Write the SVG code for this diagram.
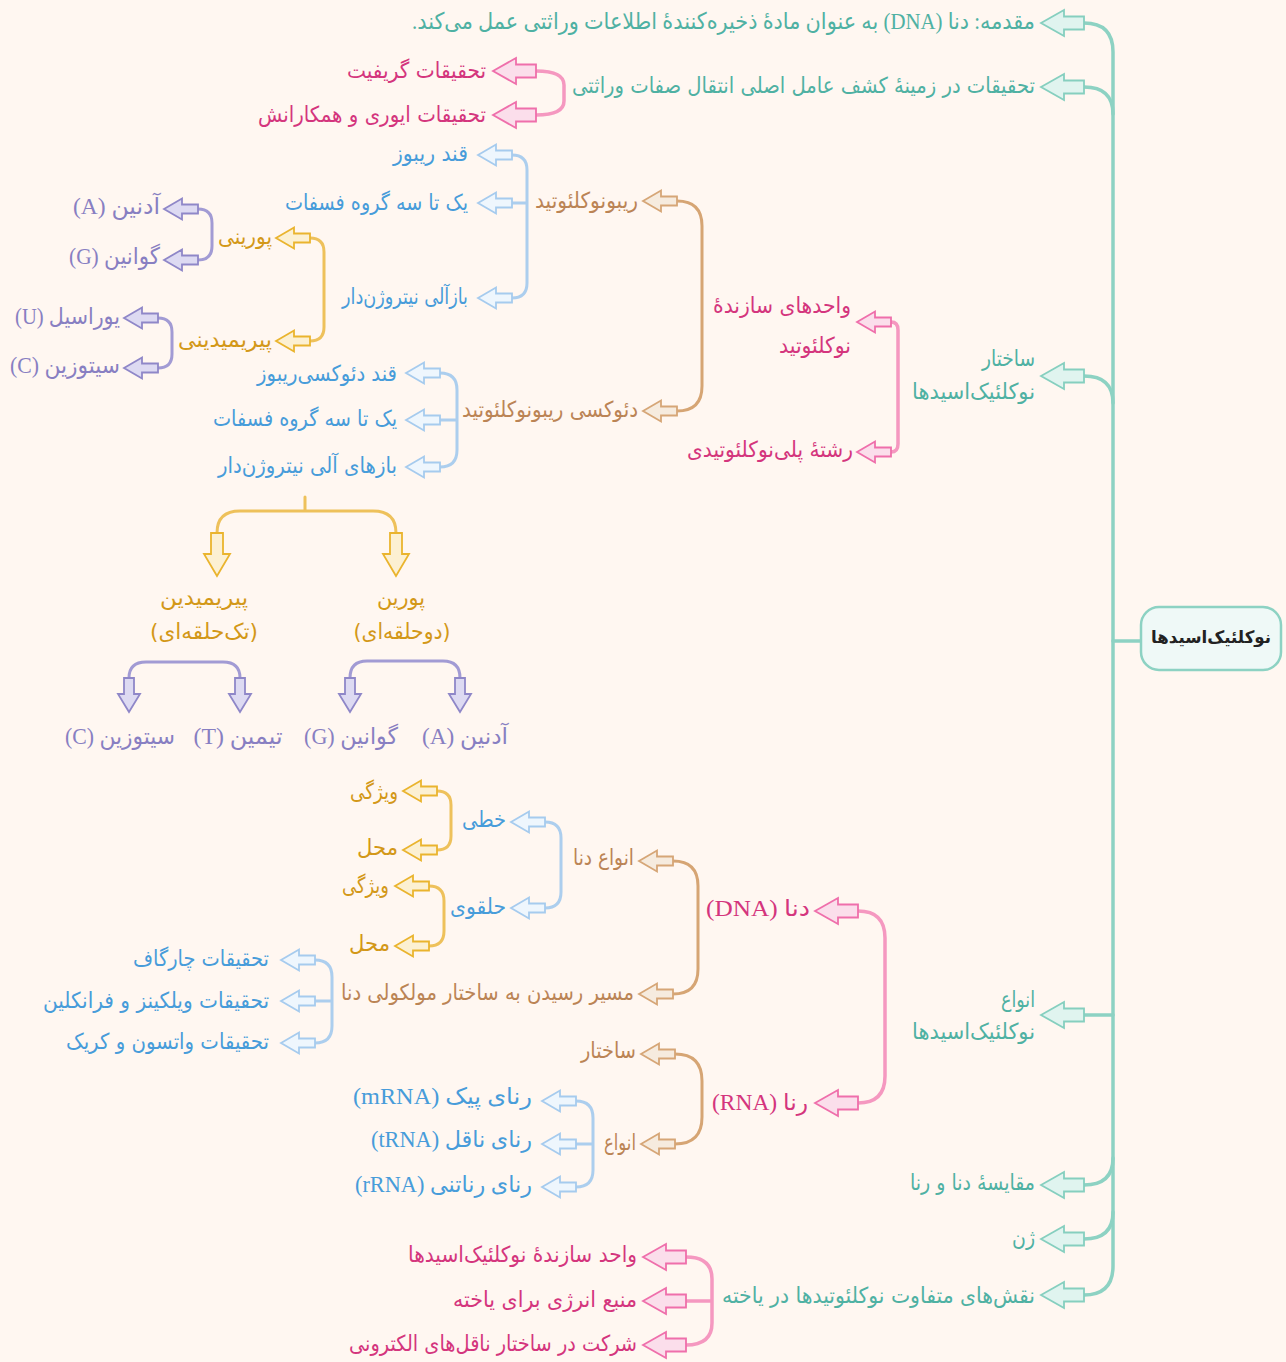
<svg xmlns="http://www.w3.org/2000/svg" xmlns:xlink="http://www.w3.org/1999/xlink" width="1286" height="1362" viewBox="0 0 1286 1362">
<defs>
<polygon id="aB" points="0,0 23,-13 23,-6.5 43,-6.5 43,6.5 23,6.5 23,13"/>
<polygon id="aS" points="0,0 18,-10.5 18,-4.5 34,-4.5 34,4.5 18,4.5 18,10.5"/>
<polygon id="dB" points="0,0 -13,-22 -6,-22 -6,-43 6,-43 6,-22 13,-22"/>
<polygon id="dS" points="0,0 -11,-18 -5,-18 -5,-34 5,-34 5,-18 11,-18"/>
<style>
.bg{fill:#fff7f1}
.ln{fill:none;stroke-linecap:round;stroke-width:3}
.lteal{stroke:#8dd2c3;stroke-width:3.5}
.lpink{stroke:#f598c0;stroke-width:3.5}
.lbrown{stroke:#d6a574}
.lblue{stroke:#acceee}
.lyellow{stroke:#eec15b}
.lpurple{stroke:#a29bd4}
use{stroke-width:1.8;stroke-linejoin:miter}
.ateal{fill:#e0f4ef;stroke:#86cfbf}
.apink{fill:#fbdeeb;stroke:#ef6fab}
.abrown{fill:#f6ebde;stroke:#d6a677}
.ablue{fill:#eef6fd;stroke:#a6cbee}
.ayellow{fill:#fcf0d2;stroke:#eab42e}
.apurple{fill:#dddaf2;stroke:#8f87c8}
text{font-family:"DejaVu Sans",sans-serif;font-size:22px;direction:rtl;dominant-baseline:central}
.lat{font-family:"Liberation Serif","DejaVu Sans",serif;font-size:23px}
.mid{text-anchor:middle}
.teal{fill:#4fb1a3}
.pink{fill:#d4357d}
.brown{fill:#bb8455}
.blue{fill:#479cda}
.yellow{fill:#d39818}
.purple{fill:#887fc2}
.root{fill:#222;font-weight:bold;font-size:17px}
</style>
</defs>
<rect class="bg" x="0" y="0" width="1286" height="1362"/>

<g id="connectors">
<path class="ln lteal" d="M1084,23 Q1113,23 1113,52 L1113,1266 Q1113,1295 1084,1295"/>
<path class="ln lteal" d="M1084,87 Q1113,87 1113,114"/>
<path class="ln lteal" d="M1084,376 Q1113,376 1113,403"/>
<path class="ln lteal" d="M1084,1015 L1113,1015"/>
<path class="ln lteal" d="M1084,1185 Q1113,1185 1113,1158"/>
<path class="ln lteal" d="M1084,1239 Q1113,1239 1113,1212"/>
<path class="ln lteal" d="M1113,641 L1140,641"/>
<path class="ln lpink" d="M536,71 Q564,71 564,85 L564,101 Q564,115 536,115"/>
<path class="ln lpink" d="M891,322 Q898,322 898,330 L898,444 Q898,452 891,452"/>
<path class="ln lbrown" d="M677,201 Q702,201 702,226 L702,386 Q702,411 677,411"/>
<path class="ln lblue" d="M512,155 Q527,155 527,170 L527,283 Q527,298 512,298 M512,203 L527,203"/>
<path class="ln lblue" d="M440,373 Q457,373 457,390 L457,450 Q457,467 440,467 M440,420 L457,420"/>
<path class="ln lyellow" d="M310,238 Q324,238 324,252 L324,327 Q324,341 310,341"/>
<path class="ln lpurple" d="M198,209 Q212,209 212,223 L212,246 Q212,260 198,260"/>
<path class="ln lpurple" d="M158,318 Q172,318 172,332 L172,354 Q172,368 158,368"/>
<path class="ln lpink" d="M858,911 Q885,911 885,938 L885,1076 Q885,1103 858,1103"/>
<path class="ln lbrown" d="M673,861 Q698,861 698,886 L698,969 Q698,994 673,994"/>
<path class="ln lblue" d="M545,822 Q561,822 561,838 L561,892 Q561,908 545,908"/>
<path class="ln lyellow" d="M437,791 Q451,791 451,805 L451,836 Q451,850 437,850"/>
<path class="ln lyellow" d="M429,886 Q444,886 444,901 L444,931 Q444,946 429,946"/>
<path class="ln lblue" d="M315,960 Q332,960 332,977 L332,1026 Q332,1043 315,1043 M315,1001 L332,1001"/>
<path class="ln lbrown" d="M675,1054 Q702,1054 702,1081 L702,1117 Q702,1144 675,1144"/>
<path class="ln lblue" d="M576,1101 Q593,1101 593,1118 L593,1170 Q593,1187 576,1187 M576,1144 L593,1144"/>
<path class="ln lpink" d="M686,1257 Q712,1257 712,1279 L712,1323 Q712,1345 686,1345 M686,1301 L712,1301"/>
<path class="ln lyellow" d="M305,497 L305,511 M217,533 Q217,511 240,511 L373,511 Q396,511 396,533"/>
<path class="ln lpurple" d="M129,678 Q129,662 146,662 L223,662 Q240,662 240,678"/>
<path class="ln lpurple" d="M350,678 Q350,661 367,661 L443,661 Q460,661 460,678"/>
<use href="#aB" class="ateal" x="1041" y="23"/>
<use href="#aB" class="ateal" x="1041" y="87"/>
<use href="#aB" class="ateal" x="1041" y="376"/>
<use href="#aB" class="ateal" x="1041" y="1015"/>
<use href="#aB" class="ateal" x="1041" y="1185"/>
<use href="#aB" class="ateal" x="1041" y="1239"/>
<use href="#aB" class="ateal" x="1041" y="1295"/>
<use href="#aB" class="apink" x="493" y="71"/>
<use href="#aB" class="apink" x="493" y="115"/>
<use href="#aS" class="apink" x="857" y="322"/>
<use href="#aS" class="apink" x="857" y="452"/>
<use href="#aB" class="apink" x="815" y="911"/>
<use href="#aB" class="apink" x="815" y="1103"/>
<use href="#aB" class="apink" x="643" y="1257"/>
<use href="#aB" class="apink" x="643" y="1301"/>
<use href="#aB" class="apink" x="643" y="1345"/>
<use href="#aS" class="abrown" x="643" y="201"/>
<use href="#aS" class="abrown" x="643" y="411"/>
<use href="#aS" class="abrown" x="639" y="861"/>
<use href="#aS" class="abrown" x="639" y="994"/>
<use href="#aS" class="abrown" x="641" y="1054"/>
<use href="#aS" class="abrown" x="641" y="1144"/>
<use href="#aS" class="ablue" x="478" y="155"/>
<use href="#aS" class="ablue" x="478" y="203"/>
<use href="#aS" class="ablue" x="478" y="298"/>
<use href="#aS" class="ablue" x="406" y="373"/>
<use href="#aS" class="ablue" x="406" y="420"/>
<use href="#aS" class="ablue" x="406" y="467"/>
<use href="#aS" class="ablue" x="511" y="822"/>
<use href="#aS" class="ablue" x="511" y="908"/>
<use href="#aS" class="ablue" x="281" y="960"/>
<use href="#aS" class="ablue" x="281" y="1001"/>
<use href="#aS" class="ablue" x="281" y="1043"/>
<use href="#aS" class="ablue" x="542" y="1101"/>
<use href="#aS" class="ablue" x="542" y="1144"/>
<use href="#aS" class="ablue" x="542" y="1187"/>
<use href="#aS" class="ayellow" x="276" y="238"/>
<use href="#aS" class="ayellow" x="276" y="341"/>
<use href="#aS" class="ayellow" x="403" y="791"/>
<use href="#aS" class="ayellow" x="403" y="850"/>
<use href="#aS" class="ayellow" x="395" y="886"/>
<use href="#aS" class="ayellow" x="395" y="946"/>
<use href="#aS" class="apurple" x="164" y="209"/>
<use href="#aS" class="apurple" x="164" y="260"/>
<use href="#aS" class="apurple" x="124" y="318"/>
<use href="#aS" class="apurple" x="124" y="368"/>
<use href="#dB" class="ayellow" x="217" y="576"/>
<use href="#dB" class="ayellow" x="396" y="576"/>
<use href="#dS" class="apurple" x="129" y="712"/>
<use href="#dS" class="apurple" x="240" y="712"/>
<use href="#dS" class="apurple" x="350" y="712"/>
<use href="#dS" class="apurple" x="460" y="712"/>
</g>

<g id="root">
<rect x="1141" y="607" width="140" height="63" rx="18" fill="#eff9f7" stroke="#8dd2c3" stroke-width="2.5"/>
<text class="root mid" x="1211" y="637" textLength="120" lengthAdjust="spacingAndGlyphs">نوکلئیک‌اسیدها</text>
</g>

<g id="n-intro"><text class="teal lat" x="1035" y="21" textLength="623" lengthAdjust="spacingAndGlyphs">مقدمه: دنا (DNA) به عنوان مادهٔ ذخیره‌کنندهٔ اطلاعات وراثتی عمل می‌کند.</text></g>
<g id="n-research"><text class="teal" x="1035" y="85" textLength="463" lengthAdjust="spacingAndGlyphs">تحقیقات در زمینهٔ کشف عامل اصلی انتقال صفات وراثتی</text></g>
<g id="n-structure"><text class="teal" x="1035" y="358" textLength="53" lengthAdjust="spacingAndGlyphs">ساختار</text><text class="teal" x="1035" y="391" textLength="123" lengthAdjust="spacingAndGlyphs">نوکلئیک‌اسیدها</text></g>
<g id="n-types"><text class="teal" x="1035" y="999" textLength="34" lengthAdjust="spacingAndGlyphs">انواع</text><text class="teal" x="1035" y="1031" textLength="123" lengthAdjust="spacingAndGlyphs">نوکلئیک‌اسیدها</text></g>
<g id="n-compare"><text class="teal" x="1035" y="1182" textLength="125" lengthAdjust="spacingAndGlyphs">مقایسهٔ دنا و رنا</text></g>
<g id="n-gene"><text class="teal" x="1035" y="1237" textLength="23" lengthAdjust="spacingAndGlyphs">ژن</text></g>
<g id="n-roles"><text class="teal" x="1035" y="1295" textLength="313" lengthAdjust="spacingAndGlyphs">نقش‌های متفاوت نوکلئوتیدها در یاخته</text></g>

<g id="n-griffith"><text class="pink" x="486" y="70" textLength="139" lengthAdjust="spacingAndGlyphs">تحقیقات گریفیت</text></g>
<g id="n-avery"><text class="pink" x="486" y="114" textLength="228" lengthAdjust="spacingAndGlyphs">تحقیقات ایوری و همکارانش</text></g>
<g id="n-units"><text class="pink" x="851" y="305" textLength="138" lengthAdjust="spacingAndGlyphs">واحدهای  سازندهٔ</text><text class="pink" x="851" y="345" textLength="72" lengthAdjust="spacingAndGlyphs">نوکلئوتید</text></g>
<g id="n-strand"><text class="pink" x="853" y="449" textLength="166" lengthAdjust="spacingAndGlyphs">رشتهٔ پلی‌نوکلئوتیدی</text></g>
<g id="n-dna"><text class="pink lat" x="810" y="908" textLength="104" lengthAdjust="spacingAndGlyphs">دنا (DNA)</text></g>
<g id="n-rna"><text class="pink lat" x="808" y="1102" textLength="96" lengthAdjust="spacingAndGlyphs">رنا (RNA)</text></g>
<g id="n-role1"><text class="pink" x="637" y="1254" textLength="229" lengthAdjust="spacingAndGlyphs">واحد سازندهٔ نوکلئیک‌اسیدها</text></g>
<g id="n-role2"><text class="pink" x="637" y="1299" textLength="184" lengthAdjust="spacingAndGlyphs">منبع انرژی برای یاخته</text></g>
<g id="n-role3"><text class="pink" x="637" y="1343" textLength="288" lengthAdjust="spacingAndGlyphs">شرکت در ساختار ناقل‌های الکترونی</text></g>

<g id="n-ribo"><text class="brown" x="638" y="200" textLength="103" lengthAdjust="spacingAndGlyphs">ریبونوکلئوتید</text></g>
<g id="n-deoxy"><text class="brown" x="638" y="409" textLength="176" lengthAdjust="spacingAndGlyphs">دئوکسی ریبونوکلئوتید</text></g>
<g id="n-dnatypes"><text class="brown" x="634" y="857" textLength="61" lengthAdjust="spacingAndGlyphs">انواع دنا</text></g>
<g id="n-path"><text class="brown" x="634" y="992" textLength="293" lengthAdjust="spacingAndGlyphs">مسیر رسیدن به ساختار مولکولی دنا</text></g>
<g id="n-rnastruct"><text class="brown" x="636" y="1050" textLength="55" lengthAdjust="spacingAndGlyphs">ساختار</text></g>
<g id="n-rnatypes"><text class="brown" x="636" y="1142" textLength="32" lengthAdjust="spacingAndGlyphs">انواع</text></g>

<g id="n-ribose"><text class="blue" x="468" y="153" textLength="75" lengthAdjust="spacingAndGlyphs">قند ریبوز</text></g>
<g id="n-phos1"><text class="blue" x="468" y="202" textLength="183" lengthAdjust="spacingAndGlyphs">یک تا سه گروه فسفات</text></g>
<g id="n-base1"><text class="blue" x="468" y="296" textLength="126" lengthAdjust="spacingAndGlyphs">بازآلی نیتروژن‌دار</text></g>
<g id="n-deoxyribose"><text class="blue" x="397" y="373" textLength="140" lengthAdjust="spacingAndGlyphs">قند دئوکسی‌ریبوز</text></g>
<g id="n-phos2"><text class="blue" x="397" y="418" textLength="184" lengthAdjust="spacingAndGlyphs">یک تا سه گروه فسفات</text></g>
<g id="n-base2"><text class="blue" x="397" y="465" textLength="179" lengthAdjust="spacingAndGlyphs">بازهای آلی نیتروژن‌دار</text></g>
<g id="n-linear"><text class="blue" x="506" y="819" textLength="44" lengthAdjust="spacingAndGlyphs">خطی</text></g>
<g id="n-circular"><text class="blue" x="506" y="906" textLength="56" lengthAdjust="spacingAndGlyphs">حلقوی</text></g>
<g id="n-chargaff"><text class="blue" x="269" y="958" textLength="136" lengthAdjust="spacingAndGlyphs">تحقیقات چارگاف</text></g>
<g id="n-wilkins"><text class="blue" x="269" y="1000" textLength="226" lengthAdjust="spacingAndGlyphs">تحقیقات ویلکینز و فرانکلین</text></g>
<g id="n-watson"><text class="blue" x="269" y="1041" textLength="203" lengthAdjust="spacingAndGlyphs">تحقیقات واتسون و کریک</text></g>
<g id="n-mrna"><text class="blue lat" x="532" y="1096" textLength="179" lengthAdjust="spacingAndGlyphs">رنای پیک (mRNA)</text></g>
<g id="n-trna"><text class="blue lat" x="532" y="1139" textLength="161" lengthAdjust="spacingAndGlyphs">رنای ناقل (tRNA)</text></g>
<g id="n-rrna"><text class="blue lat" x="532" y="1184" textLength="177" lengthAdjust="spacingAndGlyphs">رنای رناتنی (rRNA)</text></g>

<g id="n-purine1"><text class="yellow" x="272" y="236" textLength="54" lengthAdjust="spacingAndGlyphs">پورینی</text></g>
<g id="n-pyrimidine1"><text class="yellow" x="272" y="339" textLength="94" lengthAdjust="spacingAndGlyphs">پیریمیدینی</text></g>
<g id="n-feat1"><text class="yellow" x="398" y="791" textLength="48" lengthAdjust="spacingAndGlyphs">ویژگی</text></g>
<g id="n-loc1"><text class="yellow" x="398" y="847" textLength="41" lengthAdjust="spacingAndGlyphs">محل</text></g>
<g id="n-feat2"><text class="yellow" x="389" y="885" textLength="47" lengthAdjust="spacingAndGlyphs">ویژگی</text></g>
<g id="n-loc2"><text class="yellow" x="390" y="943" textLength="41" lengthAdjust="spacingAndGlyphs">محل</text></g>
<g id="n-pyrimidine2"><text class="yellow mid" x="204" y="597" textLength="88" lengthAdjust="spacingAndGlyphs">پیریمیدین</text><text class="yellow mid" x="204" y="631" textLength="108" lengthAdjust="spacingAndGlyphs">(تک‌حلقه‌ای)</text></g>
<g id="n-purine2"><text class="yellow mid" x="401" y="597" textLength="48" lengthAdjust="spacingAndGlyphs">پورین</text><text class="yellow mid" x="402" y="631" textLength="97" lengthAdjust="spacingAndGlyphs">(دوحلقه‌ای)</text></g>

<g id="n-adenine1"><text class="purple lat" x="160" y="206" textLength="87" lengthAdjust="spacingAndGlyphs">آدنین (A)</text></g>
<g id="n-guanine1"><text class="purple lat" x="160" y="256" textLength="91" lengthAdjust="spacingAndGlyphs">گوانین (G)</text></g>
<g id="n-uracil"><text class="purple lat" x="120" y="316" textLength="105" lengthAdjust="spacingAndGlyphs">یوراسیل (U)</text></g>
<g id="n-cytosine1"><text class="purple lat" x="120" y="365" textLength="110" lengthAdjust="spacingAndGlyphs">سیتوزین (C)</text></g>
<g id="n-cytosine2"><text class="purple lat mid" x="120" y="736" textLength="110" lengthAdjust="spacingAndGlyphs">سیتوزین (C)</text></g>
<g id="n-thymine"><text class="purple lat mid" x="238" y="736" textLength="89" lengthAdjust="spacingAndGlyphs">تیمین (T)</text></g>
<g id="n-guanine2"><text class="purple lat mid" x="351" y="736" textLength="94" lengthAdjust="spacingAndGlyphs">گوانین (G)</text></g>
<g id="n-adenine2"><text class="purple lat mid" x="465" y="736" textLength="86" lengthAdjust="spacingAndGlyphs">آدنین (A)</text></g>
</svg>
